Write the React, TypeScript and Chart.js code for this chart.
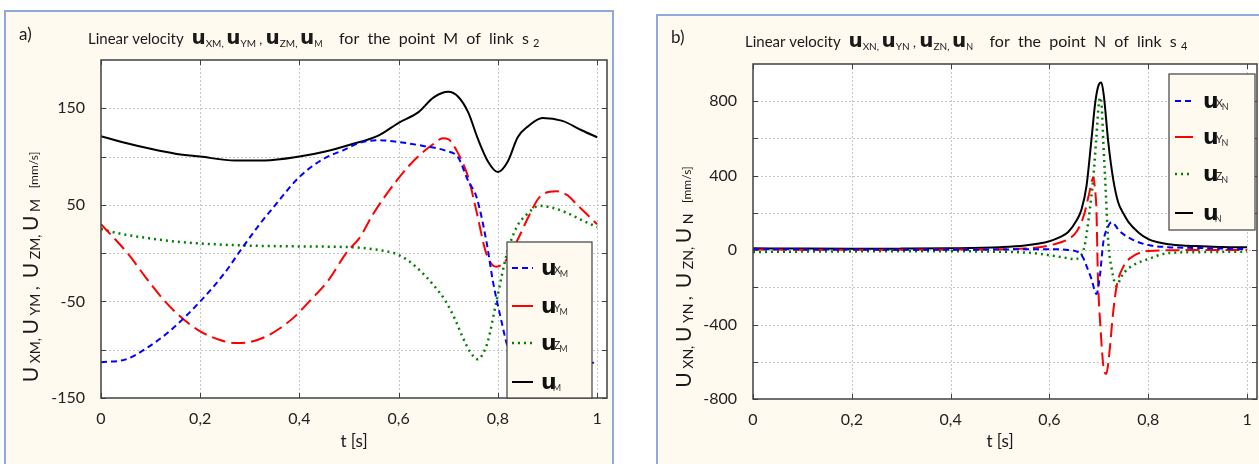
import React, { useEffect, useRef } from 'react';
import { Chart, registerables } from 'chart.js';
Chart.register(...registerables);

// ---------- Panel a) : point M of link s2 ----------
const tUxM = [0, 0.05, 0.09, 0.14, 0.2, 0.25, 0.28, 0.32, 0.35, 0.4, 0.45, 0.49, 0.52, 0.56, 0.6, 0.65, 0.695, 0.72, 0.74, 0.757, 0.777, 0.79, 0.807, 0.818, 0.83, 0.85, 0.9, 0.95, 1.0];
const uxM = [-113, -110, -99, -80, -50, -20, 2, 30, 49, 79, 98, 107, 114, 117, 115, 111, 106, 99, 75, 58, 12, -29, -70, -94, -110, -118, -118, -116, -113];

const tUyM = [0, 0.055, 0.09, 0.129, 0.165, 0.2, 0.24, 0.27, 0.3, 0.33, 0.36, 0.39, 0.42, 0.457, 0.497, 0.52, 0.548, 0.57, 0.596, 0.62, 0.643, 0.67, 0.689, 0.7, 0.717, 0.74, 0.757, 0.777, 0.797, 0.814, 0.838, 0.864, 0.884, 0.918, 0.94, 0.958, 0.98, 1.0];
const uyM = [30, -1, -25, -50, -68, -81, -90, -93, -92, -87, -78, -66, -50, -29, 2, 15, 40, 57, 75, 90, 102, 113, 119, 118, 106, 79, 43, -1, -14, -9, 12, 40, 58, 64, 60, 51, 40, 30];

const tUzM = [0, 0.04, 0.089, 0.15, 0.2, 0.285, 0.39, 0.51, 0.55, 0.596, 0.62, 0.643, 0.67, 0.695, 0.715, 0.729, 0.745, 0.76, 0.77, 0.78, 0.797, 0.818, 0.838, 0.858, 0.884, 0.91, 0.938, 0.97, 1.0];
const uzM = [25, 20, 16, 12, 10, 8, 7, 6, 4, -1, -8, -18, -33, -50, -70, -87, -103, -110, -104, -91, -50, -1, 27, 40, 49, 47, 42, 34, 27];

const tUM = [0, 0.05, 0.1, 0.15, 0.2, 0.27, 0.33, 0.4, 0.45, 0.5, 0.56, 0.6, 0.64, 0.67, 0.7, 0.72, 0.74, 0.76, 0.78, 0.8, 0.82, 0.84, 0.86, 0.89, 0.93, 0.97, 1.0];
const uM = [121, 114, 108, 103, 100, 96, 96, 100, 105, 112, 122, 135, 146, 161, 167, 162, 146, 118, 95, 84, 95, 120, 131, 140, 137, 127, 120];

const xTicks = [0, 0.2, 0.4, 0.6, 0.8, 1];
const yGridM = [-100, -50, 0, 50, 100, 150];
const yLabelsM = [-150, -50, 50, 150];

// ---------- Panel b) : point N of link s4 ----------
const tUxN = [0, 0.2, 0.4, 0.6, 0.638, 0.658, 0.668, 0.675, 0.685, 0.695, 0.702, 0.709, 0.719, 0.726, 0.742, 0.766, 0.8, 0.84, 0.909, 1.0];
const uxN = [5, 3, 2, 5, 0, -11, -40, -86, -155, -236, -139, 43, 129, 150, 102, 59, 27, 16, 11, 5];

const tUyN = [0, 0.2, 0.4, 0.55, 0.61, 0.638, 0.655, 0.67, 0.68, 0.689, 0.692, 0.695, 0.698, 0.703, 0.711, 0.715, 0.72, 0.729, 0.736, 0.75, 0.766, 0.8, 0.9, 1.0];
const uyN = [3, 2, 3, 8, 32, 59, 100, 190, 300, 390, 330, 220, -139, -407, -654, -665, -584, -332, -193, -86, -38, -5, 0, 0];

const tUzN = [0, 0.1, 0.2, 0.3, 0.4, 0.5, 0.536, 0.58, 0.61, 0.63, 0.65, 0.661, 0.671, 0.681, 0.689, 0.695, 0.7, 0.703, 0.706, 0.709, 0.714, 0.719, 0.726, 0.736, 0.744, 0.752, 0.77, 0.8, 0.84, 0.9, 1.0];
const uzN = [-10, -8, -7, -6, -6, -9, -11, -20, -32, -40, -48, -38, 21, 204, 397, 611, 790, 820, 760, 580, 310, 43, -102, -193, -150, -118, -80, -48, -16, -11, -8];

const tUN = [0, 0.1, 0.2, 0.3, 0.4, 0.5, 0.55, 0.6, 0.62, 0.638, 0.655, 0.665, 0.675, 0.685, 0.693, 0.7, 0.705, 0.71, 0.719, 0.729, 0.739, 0.75, 0.76, 0.78, 0.8, 0.82, 0.841, 0.87, 0.909, 0.95, 1.0];
const uN = [10, 8, 7, 8, 10, 16, 25, 48, 68, 97, 160, 220, 345, 595, 800, 890, 900, 830, 580, 380, 257, 195, 150, 95, 59, 42, 32, 25, 21, 17, 15];

const yGridN = [-600, -400, -200, 0, 200, 400, 600, 800];
const yLabelsN = [-800, -400, 0, 400, 800];

// ---------- styles ----------
const FONT = 'Lato, "Open Sans", sans-serif';
const UFONT = '"DejaVu Sans", sans-serif';
const BLUE = '#0000FF';
const RED = '#FF0000';
const GREEN = '#008000';
const BLACK = '#000000';
const DASH_BLUE = [6, 4];
const DASH_RED = [14, 6];
const DASH_GREEN = [2, 4];

type Run = { t: string; s: number; b?: boolean; f?: string; dy?: number };

function runsWidth(ctx: CanvasRenderingContext2D, runs: Run[]) {
  let w = 0;
  for (const r of runs) {
    ctx.font = `${r.b ? 'bold ' : ''}${r.s}px ${r.f ?? FONT}`;
    w += ctx.measureText(r.t).width;
  }
  return w;
}
function drawRuns(ctx: CanvasRenderingContext2D, x: number, y: number, runs: Run[], extra = 0) {
  let cx = x;
  for (const r of runs) {
    ctx.font = `${r.b ? 'bold ' : ''}${r.s}px ${r.f ?? FONT}`;
    ctx.fillText(r.t, cx, y + (r.dy ?? 0));
    cx += ctx.measureText(r.t).width + extra;
  }
  return cx;
}

const U = (s = 20): Run => ({ t: 'u', s, b: true, f: UFONT });

type LegendEntry = { color: string; dash: number[]; width: number; sup: string; sub: string };

type PanelCfg = {
  width: number;
  pad: { left: number; right: number; top: number; bottom: number };
  panel: { x: number; y: number; w: number; h: number };
  label: { text: string; x: number; y: number };
  title: { x: number; y: number; runs: Run[] };
  yTitle: { cx: number; cy: number; runs: Run[] };
  xTitle: { cx: number; y: number };
  legend: { x: number; y: number; w: number; h: number; rows: number[]; sx0: number; sx1: number; tx: number; entries: LegendEntry[] };
  yMin: number;
  yMax: number;
  yGrid: number[];
  yLabels: number[];
  series: { t: number[]; v: number[]; color: string; dash: number[]; width: number }[];
};

function makeDecor(cfg: PanelCfg) {
  return {
    id: 'decor',
    beforeDraw(chart: any) {
      const { ctx, chartArea: a, width, height } = chart;
      const p = cfg.panel;
      ctx.save();
      ctx.fillStyle = '#ffffff';
      ctx.fillRect(0, 0, width, height);
      ctx.fillStyle = '#FEFAF0';
      ctx.fillRect(p.x, p.y, p.w, p.h);
      ctx.strokeStyle = '#8FAAD6';
      ctx.lineWidth = 2;
      ctx.strokeRect(p.x, p.y, p.w, p.h);
      ctx.fillStyle = '#ffffff';
      ctx.fillRect(a.left, a.top, a.right - a.left, a.bottom - a.top);
      const xs = chart.scales.x;
      const ys = chart.scales.y;
      ctx.strokeStyle = '#c8c8c8';
      ctx.lineWidth = 1;
      ctx.setLineDash([2, 2]);
      for (const v of xTicks) {
        if (v === 0) continue;
        const px = Math.round(xs.getPixelForValue(v)) + 0.5;
        ctx.beginPath();
        ctx.moveTo(px, a.top);
        ctx.lineTo(px, a.bottom);
        ctx.stroke();
      }
      for (const v of cfg.yGrid) {
        const py = Math.round(ys.getPixelForValue(v)) + 0.5;
        ctx.beginPath();
        ctx.moveTo(a.left, py);
        ctx.lineTo(a.right, py);
        ctx.stroke();
      }
      ctx.restore();
    },
    afterDatasetsDraw(chart: any) {
      const { ctx, chartArea: a } = chart;
      const xs = chart.scales.x;
      const ys = chart.scales.y;
      ctx.save();
      ctx.strokeStyle = '#404040';
      ctx.lineWidth = 1.5;
      ctx.setLineDash([]);
      ctx.strokeRect(a.left, a.top, a.right - a.left, a.bottom - a.top);
      ctx.lineWidth = 1;
      ctx.beginPath();
      for (const v of xTicks) {
        const px = Math.round(xs.getPixelForValue(v)) + 0.5;
        ctx.moveTo(px, a.bottom);
        ctx.lineTo(px, a.bottom - 5);
        ctx.moveTo(px, a.top);
        ctx.lineTo(px, a.top + 5);
      }
      for (const v of [...cfg.yGrid, cfg.yMin]) {
        const py = Math.round(ys.getPixelForValue(v)) + 0.5;
        ctx.moveTo(a.left, py);
        ctx.lineTo(a.left + 5, py);
        ctx.moveTo(a.right, py);
        ctx.lineTo(a.right - 5, py);
      }
      ctx.stroke();
      const L = cfg.legend;
      ctx.fillStyle = '#FEFAF0';
      ctx.fillRect(L.x, L.y, L.w, L.h);
      ctx.strokeStyle = '#404040';
      ctx.lineWidth = 1.2;
      ctx.strokeRect(L.x, L.y, L.w, L.h);
      L.entries.forEach((e, i) => {
        const y = L.rows[i];
        ctx.strokeStyle = e.color;
        ctx.lineWidth = e.width;
        ctx.setLineDash(e.dash);
        ctx.beginPath();
        ctx.moveTo(L.sx0, y);
        ctx.lineTo(L.sx1, y);
        ctx.stroke();
        ctx.setLineDash([]);
        ctx.fillStyle = '#111';
        ctx.textBaseline = 'alphabetic';
        ctx.textAlign = 'left';
        const x = drawRuns(ctx, L.tx, y + 7, [U(22)]);
        ctx.fillStyle = '#333';
        drawRuns(ctx, x - 3, y + 6, [{ t: e.sup, s: 11 }]);
        ctx.font = `11px ${FONT}`;
        const w = ctx.measureText(e.sup).width;
        drawRuns(ctx, x - 3 + w - 1, y + 9, [{ t: e.sub, s: 9 }]);
      });
      ctx.restore();
    },
    afterDraw(chart: any) {
      const { ctx } = chart;
      ctx.save();
      ctx.fillStyle = '#1a1a1a';
      ctx.textBaseline = 'alphabetic';
      ctx.textAlign = 'left';
      ctx.font = `17px ${FONT}`;
      ctx.fillText(cfg.label.text, cfg.label.x, cfg.label.y);
      drawRuns(ctx, cfg.title.x, cfg.title.y, cfg.title.runs);
      ctx.font = `17px ${FONT}`;
      ctx.textAlign = 'center';
      ctx.fillText('t [s]', cfg.xTitle.cx, cfg.xTitle.y);
      ctx.textAlign = 'left';
      ctx.translate(cfg.yTitle.cx, cfg.yTitle.cy);
      ctx.rotate(-Math.PI / 2);
      const runs = cfg.yTitle.runs;
      const w = runsWidth(ctx, runs);
      drawRuns(ctx, -w / 2, 0, runs);
      ctx.restore();
    },
  };
}

function fmtX(v: number) {
  if (v === 0) return '0';
  if (v === 1) return '1';
  return v.toFixed(1).replace('.', ',');
}

function Panel({ cfg, left }: { cfg: PanelCfg; left: number }) {
  const ref = useRef<HTMLCanvasElement>(null);
  useEffect(() => {
    const chart = new Chart(ref.current as HTMLCanvasElement, {
      type: 'line',
      data: {
        datasets: cfg.series.map((s) => ({
          data: s.t.map((t, i) => ({ x: t, y: s.v[i] })),
          borderColor: s.color,
          borderDash: s.dash,
          borderWidth: s.width,
          pointRadius: 0,
          fill: false,
          cubicInterpolationMode: 'monotone' as const,
        })),
      },
      options: {
        animation: false,
        responsive: false,
        devicePixelRatio: 1,
        layout: { padding: cfg.pad },
        plugins: { legend: { display: false }, tooltip: { enabled: false }, title: { display: false } },
        scales: {
          x: {
            type: 'linear',
            min: 0,
            max: 1.02,
            afterBuildTicks: (s: any) => {
              s.ticks = xTicks.map((v) => ({ value: v }));
            },
            afterFit: (s: any) => {
              s.height = 40;
            },
            grid: { display: false },
            border: { display: false },
            ticks: {
              callback: (v: any) => fmtX(Number(v)),
              font: { family: FONT, size: 16 },
              color: '#222',
              padding: 3,
              maxRotation: 0,
              autoSkip: false,
            },
          },
          y: {
            type: 'linear',
            min: cfg.yMin,
            max: cfg.yMax,
            afterBuildTicks: (s: any) => {
              s.ticks = cfg.yLabels.map((v) => ({ value: v }));
            },
            afterFit: (s: any) => {
              s.width = 50;
            },
            grid: { display: false },
            border: { display: false },
            ticks: {
              callback: (v: any) => String(v),
              font: { family: FONT, size: 16 },
              color: '#222',
              padding: 8,
              autoSkip: false,
            },
          },
        },
      },
      plugins: [makeDecor(cfg)],
    } as any);
    return () => chart.destroy();
  }, []);
  return (
    <canvas
      ref={ref}
      width={cfg.width}
      height={464}
      style={{ position: 'absolute', left, top: 0, width: cfg.width, height: 464 }}
    />
  );
}

const sub = (t: string, s = 10, dy = 3): Run => ({ t, s, dy });

const yRuns = (p: string): Run[] => [
  { t: 'U', s: 21 }, { t: ' X' + p + ', ', s: 14, dy: 2 }, { t: 'U', s: 21 }, { t: ' Y' + p + ' ', s: 14, dy: 2 }, { t: ',  ', s: 16 },
  { t: 'U', s: 21 }, { t: ' Z' + p + ', ', s: 14, dy: 2 }, { t: 'U', s: 21 }, { t: ' ' + p + '   ', s: 14, dy: 2 }, { t: '[mm/s]', s: 12 },
];

const titleRuns = (p: string, k: string): Run[] => [
  { t: 'Linear velocity  ', s: 15 },
  U(), sub('X' + p + ', '), U(), sub('Y' + p), { t: ' , ', s: 13 }, U(), sub('Z' + p + ', '), U(), sub(p, 9),
  { t: '    for  the  point  ' + p + '  of  link  s ', s: 16 },
  sub(k, 11, 3),
];

const cfgA: PanelCfg = {
  width: 630,
  pad: { left: 51, right: 23, top: 60, bottom: 26 },
  panel: { x: 5, y: 11, w: 608, h: 470 },
  label: { text: 'a)', x: 19, y: 40 },
  title: { x: 88, y: 44, runs: titleRuns('M', '2') },
  yTitle: { cx: 38, cy: 267, runs: yRuns('M') },
  xTitle: { cx: 354, y: 447 },
  legend: {
    x: 507, y: 242, w: 85, h: 156, rows: [268, 306, 343, 382], sx0: 512, sx1: 533, tx: 541,
    entries: [
      { color: BLUE, dash: DASH_BLUE, width: 2, sup: 'X', sub: 'M' },
      { color: RED, dash: [], width: 2, sup: 'Y', sub: 'M' },
      { color: GREEN, dash: DASH_GREEN, width: 2.5, sup: 'Z', sub: 'M' },
      { color: BLACK, dash: [], width: 2, sup: '', sub: 'M' },
    ],
  },
  yMin: -150,
  yMax: 200,
  yGrid: yGridM,
  yLabels: yLabelsM,
  series: [
    { t: tUxM, v: uxM, color: BLUE, dash: DASH_BLUE, width: 2 },
    { t: tUyM, v: uyM, color: RED, dash: DASH_RED, width: 2 },
    { t: tUzM, v: uzM, color: GREEN, dash: DASH_GREEN, width: 2.5 },
    { t: tUM, v: uM, color: BLACK, dash: [], width: 2 },
  ],
};

const cfgB: PanelCfg = {
  width: 629,
  pad: { left: 73, right: 2, top: 64, bottom: 25 },
  panel: { x: 27, y: 15, w: 700, h: 470 },
  label: { text: 'b)', x: 41, y: 43 },
  title: { x: 115, y: 47, runs: titleRuns('N', '4') },
  yTitle: { cx: 61, cy: 277, runs: yRuns('N') },
  xTitle: { cx: 370, y: 447 },
  legend: {
    x: 539, y: 74, w: 86, h: 156, rows: [101, 137, 174, 213], sx0: 545, sx1: 563, tx: 573,
    entries: [
      { color: BLUE, dash: DASH_BLUE, width: 2, sup: 'X', sub: 'N' },
      { color: RED, dash: [], width: 2, sup: 'Y', sub: 'N' },
      { color: GREEN, dash: DASH_GREEN, width: 2.5, sup: 'Z', sub: 'N' },
      { color: BLACK, dash: [], width: 2, sup: '', sub: 'N' },
    ],
  },
  yMin: -800,
  yMax: 1000,
  yGrid: yGridN,
  yLabels: yLabelsN,
  series: [
    { t: tUxN, v: uxN, color: BLUE, dash: DASH_BLUE, width: 2 },
    { t: tUyN, v: uyN, color: RED, dash: DASH_RED, width: 2 },
    { t: tUzN, v: uzN, color: GREEN, dash: DASH_GREEN, width: 2.5 },
    { t: tUN, v: uN, color: BLACK, dash: [], width: 2 },
  ],
};

export default function App() {
  return (
    <div style={{ position: 'fixed', left: 0, top: 0, width: 1259, height: 464, background: '#fff', overflow: 'hidden' }}>
      <Panel cfg={cfgA} left={0} />
      <Panel cfg={cfgB} left={630} />
    </div>
  );
}
